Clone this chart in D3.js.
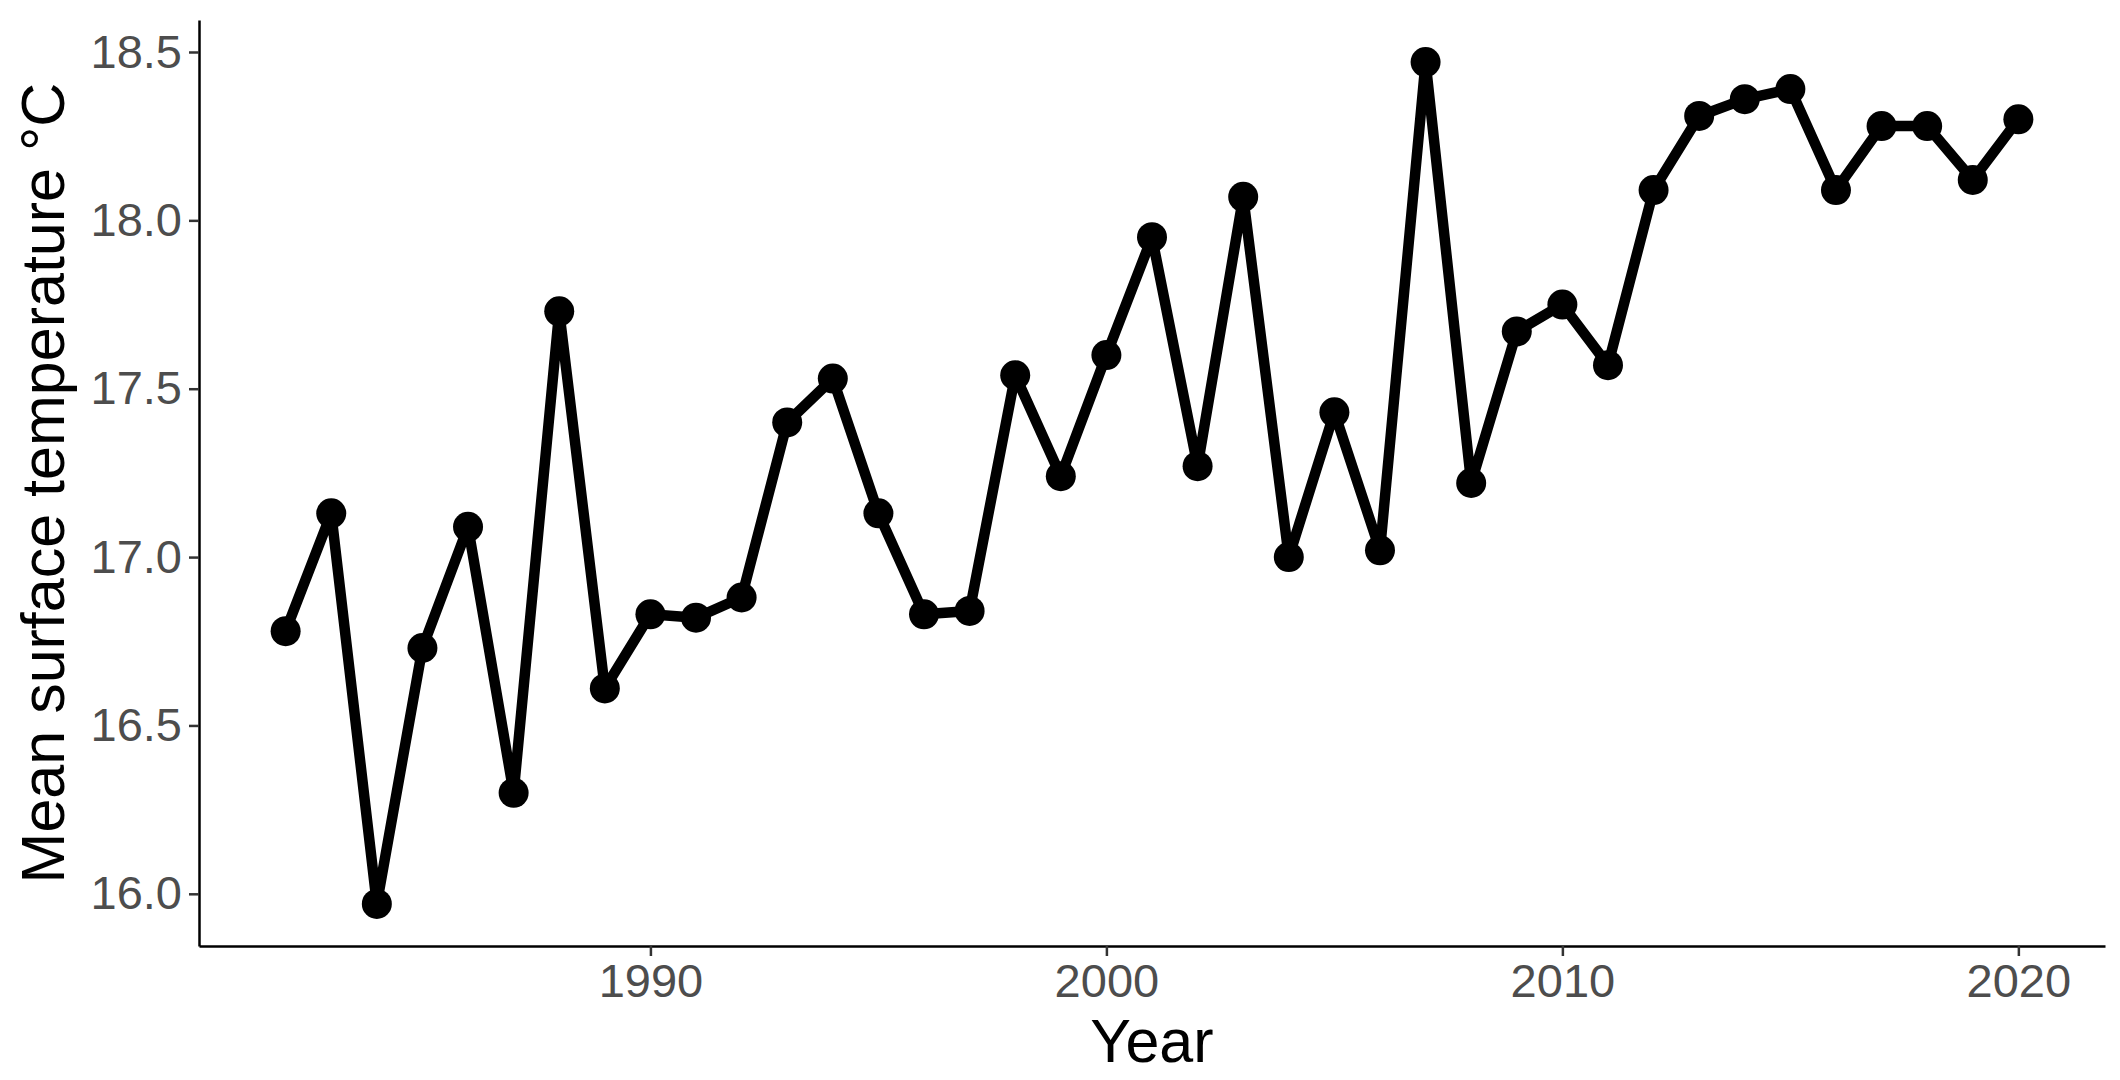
<!DOCTYPE html>
<html>
<head>
<meta charset="utf-8">
<script src="https://cdn.jsdelivr.net/npm/d3@7"></script>
<style>
    body { margin: 0; background: #ffffff; }
    svg { display: block; }
</style>
</head>
<body>
<svg width="2120" height="1080"></svg>
<script>
// Mean surface temperature per year
let years = [1982, 1983, 1984, 1985, 1986, 1987, 1988, 1989, 1990, 1991,
    1992, 1993, 1994, 1995, 1996, 1997, 1998, 1999, 2000, 2001,
    2002, 2003, 2004, 2005, 2006, 2007, 2008, 2009, 2010, 2011,
    2012, 2013, 2014, 2015, 2016, 2017, 2018, 2019, 2020];
let temps = [16.78, 17.13, 15.97, 16.73, 17.09, 16.30, 17.73, 16.61, 16.83, 16.82,
    16.88, 17.40, 17.53, 17.13, 16.83, 16.84, 17.54, 17.24, 17.60, 17.95,
    17.27, 18.07, 17.00, 17.43, 17.02, 18.47, 17.22, 17.67, 17.75, 17.57,
    18.09, 18.31, 18.36, 18.39, 18.09, 18.28, 18.28, 18.12, 18.30];
let xTicks = [1990, 2000, 2010, 2020];
let yTicks = [16.0, 16.5, 17.0, 17.5, 18.0, 18.5];

let data = years.map((y, i) => ({year: y, temp: temps[i]}));

let svg = d3.select("svg");
// panel edges (top is a window global, so use other names)
let panelLeft = 199, panelRight = 2105, panelTop = 20, panelBottom = 946;

// ggplot style 5% padding around the data range
function padded(ext) {
    let p = (ext[1] - ext[0]) * 0.05;
    return [ext[0] - p, ext[1] + p];
}

let x = d3.scaleLinear()
    .domain(padded(d3.extent(years)))
    .range([panelLeft, panelRight]);
let y = d3.scaleLinear()
    .domain(padded(d3.extent(temps)))
    .range([panelBottom, panelTop]);

// Axes
let xAxis = svg.append("g")
    .attr("transform", "translate(0," + panelBottom + ")")
    .call(d3.axisBottom(x).tickValues(xTicks).tickFormat(d3.format("d")).tickSize(10).tickPadding(8).tickSizeOuter(0));
let yAxis = svg.append("g")
    .attr("transform", "translate(" + panelLeft + ",0)")
    .call(d3.axisLeft(y).tickValues(yTicks).tickFormat(d3.format(".1f")).tickSize(10).tickPadding(7).tickSizeOuter(0));

[xAxis, yAxis].forEach(a => {
    a.select(".domain").attr("stroke", "#000").attr("stroke-width", 2.5);
    a.selectAll(".tick line").attr("stroke", "#333333").attr("stroke-width", 2.5);
    a.selectAll(".tick text")
        .attr("fill", "#4d4d4d")
        .attr("font-family", "Liberation Sans, Arial, sans-serif")
        .attr("font-size", "47px");
});
xAxis.selectAll(".tick text").attr("dy", "0.71em");

// The line and the points
svg.append("path")
    .datum(data)
    .attr("fill", "none")
    .attr("stroke", "#000")
    .attr("stroke-width", 10.5)
    .attr("stroke-linejoin", "round")
    .attr("d", d3.line().x(d => x(d.year)).y(d => y(d.temp)));

svg.selectAll(".pt")
    .data(data)
    .enter().append("circle")
    .attr("class", "pt")
    .attr("cx", d => x(d.year))
    .attr("cy", d => y(d.temp))
    .attr("r", 15)
    .attr("fill", "#000");

// Axis titles
svg.append("text")
    .attr("x", (panelLeft + panelRight) / 2)
    .attr("y", 1062)
    .attr("text-anchor", "middle")
    .attr("fill", "#000")
    .attr("font-family", "Liberation Sans, Arial, sans-serif")
    .attr("font-size", "61px")
    .text("Year");

svg.append("text")
    .attr("transform", "translate(64," + (panelTop + panelBottom) / 2 + ") rotate(-90)")
    .attr("text-anchor", "middle")
    .attr("fill", "#000")
    .attr("font-family", "Liberation Sans, Arial, sans-serif")
    .attr("font-size", "61px")
    .text("Mean surface temperature °C");
</script>
</body>
</html>
